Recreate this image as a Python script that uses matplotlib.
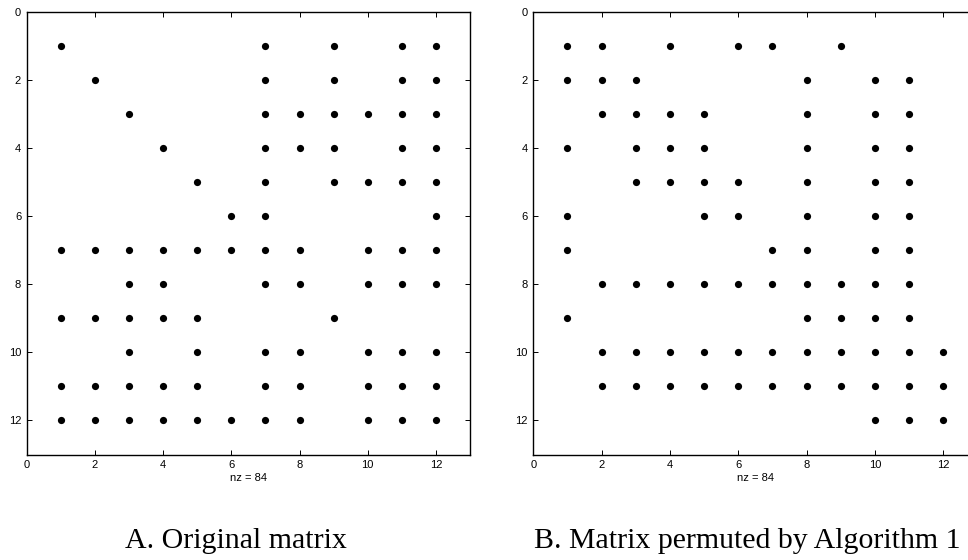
import matplotlib
matplotlib.use("Agg")
import matplotlib.pyplot as plt

# Nonzero column indices per row (rows 1..12)
rows_A = {
    1: [1, 7, 9, 11, 12],
    2: [2, 7, 9, 11, 12],
    3: [3, 7, 8, 9, 10, 11, 12],
    4: [4, 7, 8, 9, 11, 12],
    5: [5, 7, 9, 10, 11, 12],
    6: [6, 7, 12],
    7: [1, 2, 3, 4, 5, 6, 7, 8, 10, 11, 12],
    8: [3, 4, 7, 8, 10, 11, 12],
    9: [1, 2, 3, 4, 5, 9],
    10: [3, 5, 7, 8, 10, 11, 12],
    11: [1, 2, 3, 4, 5, 7, 8, 10, 11, 12],
    12: [1, 2, 3, 4, 5, 6, 7, 8, 10, 11, 12],
}
rows_B = {
    1: [1, 2, 4, 6, 7, 9],
    2: [1, 2, 3, 8, 10, 11],
    3: [2, 3, 4, 5, 8, 10, 11],
    4: [1, 3, 4, 5, 8, 10, 11],
    5: [3, 4, 5, 6, 8, 10, 11],
    6: [1, 5, 6, 8, 10, 11],
    7: [1, 7, 8, 10, 11],
    8: [2, 3, 4, 5, 6, 7, 8, 9, 10, 11],
    9: [1, 8, 9, 10, 11],
    10: [2, 3, 4, 5, 6, 7, 8, 9, 10, 11, 12],
    11: [2, 3, 4, 5, 6, 7, 8, 9, 10, 11, 12],
    12: [10, 11, 12],
}
ticks = [0, 2, 4, 6, 8, 10, 12]
captions = ["A. Original matrix", "B. Matrix permuted by Algorithm 1"]
caption_x = [236, 747]

fig = plt.figure(figsize=(9.68, 5.6), dpi=100)
tick_font = ["Liberation Sans", "DejaVu Sans"]

positions = [
    [26.7 / 968, 1 - 454.5 / 560, 443.3 / 968, (454.5 - 11.7) / 560],
    [533.3 / 968, 1 - 454.5 / 560, 444.0 / 968, (454.5 - 11.7) / 560],
]

for pos, rows, cap, cx in zip(positions, [rows_A, rows_B], captions, caption_x):
    ax = fig.add_axes(pos)
    xs, ys = [], []
    for r, cols in rows.items():
        for c in cols:
            xs.append(c)
            ys.append(r)
    ax.plot(xs, ys, "o", color="black", markersize=5.2, markeredgewidth=0, clip_on=False)
    ax.set_xlim(0, 13)
    ax.set_ylim(13, 0)
    ax.set_xticks(ticks)
    ax.set_yticks(ticks)
    ax.set_xticklabels([str(t) for t in ticks], family=tick_font, fontsize=8)
    ax.set_yticklabels([str(t) for t in ticks], family=tick_font, fontsize=8)
    ax.tick_params(direction="in", length=3.5, width=0.7, top=True, right=True, pad=4)
    for s in ax.spines.values():
        s.set_linewidth(1.0)
    ax.set_xlabel("nz = %d" % len(xs), family=tick_font, fontsize=8, labelpad=2)
    fig.text(cx / 968, 1 - 541 / 560, cap, ha="center", va="center",
             family=["Liberation Serif", "DejaVu Serif"], fontsize=21.5)

fig.savefig("out.png", dpi=100)
